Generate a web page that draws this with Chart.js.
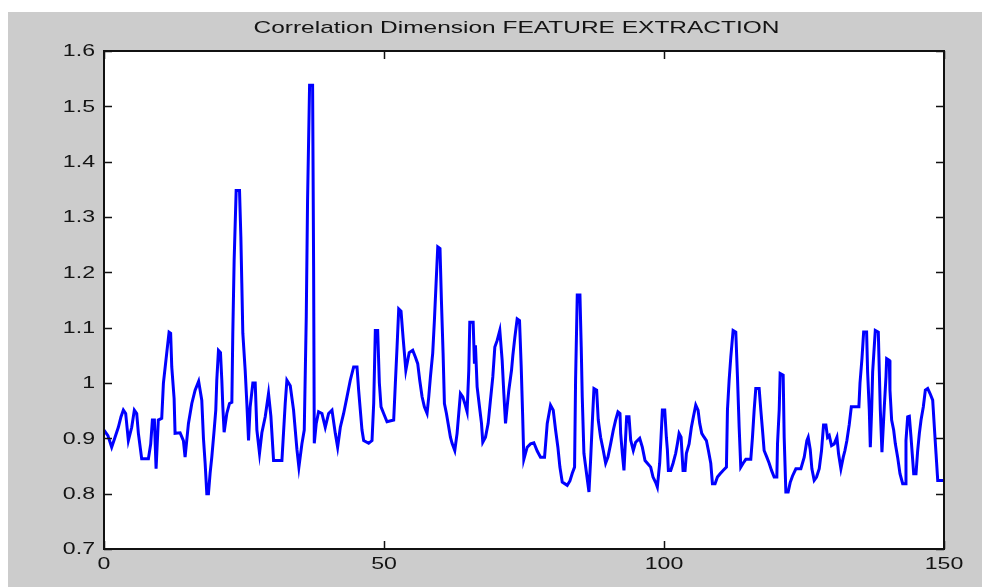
<!DOCTYPE html>
<html><head><meta charset="utf-8">
<script src="https://cdn.jsdelivr.net/npm/chart.js@4.4.0/dist/chart.umd.min.js"></script>
<style>
html,body{margin:0;padding:0;background:#fff;}
#wrap{position:relative;width:982px;height:587px;overflow:hidden;}
canvas{display:block;}
</style></head><body>
<div id="wrap"><canvas id="c" width="982" height="587"></canvas></div>
<script>
const titleText = 'Correlation Dimension FEATURE EXTRACTION';

const xValues = [
0,0.7,1.37,1.97,2.56,3.04,3.46,3.87,4.35,4.95,5.42,5.84,6.14,6.73,7.93,8.34,8.64,9.0,9.3,9.7,
10.31,10.61,11.2,11.62,11.9,12.1,12.52,12.69,13.59,14.18,14.48,15.08,15.68,16.27,16.9,17.46,17.76,18.06,18.36,18.65,
18.95,19.25,19.67,19.96,20.14,20.44,20.8,21.04,21.22,21.45,21.93,22.41,22.83,23.0,23.24,23.6,24.2,24.44,24.61,24.79,
25.21,25.51,25.81,26.1,26.58,27.0,27.3,27.77,28.19,28.79,29.38,29.8,30.28,31.77,32.36,32.66,33.26,33.85,34.45,34.8,
35.34,35.76,36.12,36.35,36.71,37.25,37.43,37.55,37.9,38.32,38.92,39.51,40.11,40.71,41.3,41.72,42.2,42.79,43.39,43.98,
44.58,45.18,45.47,45.77,46.07,46.37,47.26,47.86,48.16,48.45,48.87,49.17,49.47,49.94,50.54,51.73,52.03,52.33,52.63,53.04,
53.4,53.9,54.5,55.13,55.6,56.02,56.38,56.8,57.21,57.69,57.99,58.29,58.7,59.0,59.3,59.6,60.0,60.25,60.55,60.79,
61.15,61.45,61.86,62.16,62.64,63.05,63.35,63.65,64.07,64.43,64.84,65.14,65.32,65.92,66.15,66.33,66.63,67.05,67.41,67.64,
68.12,68.6,69.01,69.43,69.79,70.21,70.68,71.1,71.4,71.7,71.99,72.29,72.77,73.01,73.37,73.78,74.2,74.5,74.75,74.97,
75.57,76.17,76.76,77.36,77.95,78.67,79.15,79.74,80.22,80.64,81.05,81.41,81.83,82.72,83.2,83.62,84.03,84.21,84.51,84.99,
85.22,85.4,85.7,86.12,86.6,86.89,87.19,87.49,87.97,88.26,88.68,89.16,89.58,89.99,90.47,90.95,91.36,91.78,92.14,92.26,
92.56,92.85,93.33,93.75,94.05,94.52,94.94,95.66,96.13,96.61,97.03,97.62,98.04,98.52,98.81,99.23,99.47,99.71,100.13,100.42,
100.6,100.78,101.2,101.62,102.09,102.39,102.69,103.05,103.4,103.76,104.0,104.48,104.89,105.25,105.67,106.08,106.38,106.74,107.16,107.57,
107.93,108.35,108.65,109.12,109.54,110.02,110.55,111.15,111.33,111.63,111.93,112.34,112.82,113.12,113.42,113.71,114.13,114.61,115.5,115.8,
116.1,116.39,116.99,117.29,117.59,117.88,118.36,118.78,119.2,119.67,120.15,120.27,120.57,120.74,121.28,121.46,121.76,122.17,122.53,122.95,
123.55,124.44,125.04,125.51,125.75,126.11,126.41,126.82,127.24,127.72,128.13,128.49,128.91,129.21,129.51,129.92,130.4,130.88,131.17,131.59,
132.01,132.31,132.66,133.08,133.45,134.8,135.0,135.35,135.65,136.18,136.36,136.66,136.84,137.08,137.26,137.73,138.27,138.45,138.63,138.92,
139.34,139.64,139.76,140.23,140.35,140.65,141.01,141.31,141.72,142.14,142.62,143.04,143.21,143.51,143.81,144.11,144.59,145.0,145.3,145.6,
145.9,146.31,146.67,147.09,147.51,147.98,148.28,148.58,148.88,150
];

const yValues = [
0.915,0.905,0.884,0.902,0.92,0.939,0.951,0.945,0.896,0.92,0.951,0.945,0.909,0.863,0.863,0.89,0.933,0.933,0.845,0.933,
0.936,1.0,1.054,1.092,1.09,1.029,0.972,0.909,0.91,0.896,0.866,0.927,0.963,0.987,1.003,0.969,0.90,0.855,0.80,0.80,
0.837,0.866,0.915,0.951,1.005,1.059,1.055,1.005,0.957,0.911,0.945,0.963,0.965,1.09,1.222,1.348,1.348,1.264,1.18,1.09,
1.023,0.963,0.896,0.957,1.0,1.0,0.915,0.873,0.91,0.939,0.981,0.94,0.86,0.86,0.963,1.005,0.995,0.951,0.88,0.848,
0.89,0.915,1.12,1.33,1.538,1.538,1.21,0.891,0.927,0.948,0.945,0.92,0.945,0.951,0.909,0.884,0.92,0.945,0.975,1.005,
1.029,1.029,0.987,0.951,0.915,0.896,0.891,0.896,0.963,1.095,1.095,1.0,0.957,0.945,0.93,0.933,1.0,1.065,1.134,1.13,
1.083,1.023,1.055,1.059,1.047,1.035,1.005,0.975,0.957,0.945,0.975,1.011,1.054,1.113,1.18,1.246,1.243,1.15,1.054,0.963,
0.945,0.927,0.902,0.891,0.878,0.909,0.945,0.981,0.975,0.963,0.948,1.023,1.11,1.11,1.035,1.068,0.993,0.957,0.927,0.893,
0.902,0.927,0.969,1.011,1.065,1.077,1.095,1.041,0.981,0.927,0.957,0.987,1.023,1.05,1.083,1.116,1.113,1.03,0.945,0.862,
0.884,0.89,0.892,0.877,0.866,0.866,0.927,0.96,0.951,0.915,0.884,0.848,0.821,0.815,0.823,0.837,0.848,1.005,1.159,1.159,
1.065,0.975,0.873,0.84,0.803,0.86,0.927,0.99,0.987,0.933,0.902,0.878,0.855,0.866,0.89,0.915,0.933,0.948,0.945,0.909,
0.873,0.842,0.939,0.939,0.897,0.878,0.893,0.9,0.884,0.86,0.855,0.848,0.83,0.82,0.812,0.855,0.902,0.951,0.951,0.902,
0.88,0.842,0.842,0.855,0.873,0.89,0.909,0.902,0.842,0.842,0.873,0.89,0.92,0.939,0.96,0.951,0.927,0.909,0.902,0.896,
0.878,0.855,0.818,0.818,0.83,0.836,0.842,0.848,0.951,1.005,1.047,1.095,1.092,1.011,0.92,0.848,0.855,0.862,0.862,0.902,
0.951,0.99,0.99,0.951,0.915,0.878,0.866,0.855,0.842,0.83,0.83,0.89,0.951,1.017,1.014,0.902,0.803,0.803,0.82,0.832,
0.845,0.845,0.866,0.896,0.902,0.88,0.845,0.824,0.83,0.845,0.878,0.924,0.924,0.902,0.905,0.887,0.89,0.902,0.872,0.845,
0.866,0.878,0.896,0.925,0.957,0.957,1.0,1.044,1.092,1.092,1.02,0.951,0.884,0.951,1.02,1.095,1.092,1.02,0.951,0.875,
0.957,1.011,1.044,1.041,0.987,0.933,0.915,0.89,0.866,0.836,0.818,0.818,0.896,0.939,0.94,0.902,0.836,0.836,0.878,0.909,
0.933,0.957,0.987,0.99,0.981,0.969,0.92,0.872,0.824,0.824
];

const xTickValues = [0, 50, 100, 150];
const xTickLabels = ['0', '50', '100', '150'];
const yTickValues = [0.7, 0.8, 0.9, 1.0, 1.1, 1.2, 1.3, 1.4, 1.5, 1.6];
const yTickLabels = ['0.7', '0.8', '0.9', '1', '1.1', '1.2', '1.3', '1.4', '1.5', '1.6'];

const points = xValues.map((x, i) => ({x: x, y: yValues[i]}));

const FONT = '17px "Liberation Sans", Arial, Helvetica, sans-serif';
const TEXT_COLOR = '#141414';

function stretchedText(ctx, text, x, y, align, sx) {
  ctx.save();
  ctx.translate(x, y);
  ctx.scale(sx, 1);
  ctx.textAlign = align;
  ctx.textBaseline = 'middle';
  ctx.fillText(text, 0, 0);
  ctx.restore();
}

const matlabFrame = {
  id: 'matlabFrame',
  beforeDraw(chart) {
    const ctx = chart.ctx;
    const a = chart.chartArea;
    ctx.save();
    ctx.fillStyle = '#ffffff';
    ctx.fillRect(0, 0, chart.width, chart.height);
    ctx.fillStyle = '#cccccc';
    ctx.fillRect(8, 12, chart.width - 8, chart.height - 12);
    ctx.fillStyle = '#ffffff';
    ctx.fillRect(a.left, a.top, a.right - a.left, a.bottom - a.top);
    ctx.restore();
  },
  afterDatasetsDraw(chart) {
    const ctx = chart.ctx;
    const a = chart.chartArea;
    const xs = chart.scales.x, ys = chart.scales.y;
    ctx.save();
    ctx.strokeStyle = '#111111';
    ctx.lineWidth = 1.5;
    const tl = 8;
    ctx.beginPath();
    yTickValues.forEach(v => {
      const py = Math.round(ys.getPixelForValue(v)) + 0.5;
      ctx.moveTo(a.left, py); ctx.lineTo(a.left + tl, py);
      ctx.moveTo(a.right, py); ctx.lineTo(a.right - tl, py);
    });
    xTickValues.forEach(v => {
      const px = Math.round(xs.getPixelForValue(v)) + 0.5;
      ctx.moveTo(px, a.bottom); ctx.lineTo(px, a.bottom - tl);
      ctx.moveTo(px, a.top); ctx.lineTo(px, a.top + tl);
    });
    ctx.stroke();
    ctx.lineWidth = 2;
    ctx.strokeStyle = '#111111';
    ctx.strokeRect(a.left, a.top, a.right - a.left, a.bottom - a.top);
    ctx.fillStyle = TEXT_COLOR;
    ctx.font = FONT;
    yTickValues.forEach((v, i) => {
      stretchedText(ctx, yTickLabels[i], a.left - 9, ys.getPixelForValue(v) + 0.5, 'right', 1.36);
    });
    xTickValues.forEach((v, i) => {
      stretchedText(ctx, xTickLabels[i], xs.getPixelForValue(v), a.bottom + 15, 'center', 1.36);
    });
    stretchedText(ctx, titleText, 516.5, 28.5, 'center', 1.44);
    ctx.restore();
  }
};

new Chart(document.getElementById('c'), {
  type: 'line',
  data: {
    datasets: [{
      label: 'Correlation Dimension',
      data: points,
      borderColor: '#0000ff',
      borderWidth: 3,
      pointRadius: 0,
      pointHoverRadius: 0,
      tension: 0,
      fill: false,
      borderJoinStyle: 'miter',
      borderCapStyle: 'butt'
    }]
  },
  options: {
    responsive: false,
    devicePixelRatio: 1,
    animation: false,
    events: [],
    layout: { autoPadding: false, padding: { left: 104, top: 51, right: 38, bottom: 38 } },
    plugins: { legend: { display: false }, title: { display: false }, tooltip: { enabled: false } },
    scales: {
      x: {
        type: 'linear', min: 0, max: 150,
        ticks: { display: false, stepSize: 50 },
        grid: { display: false, drawTicks: false },
        border: { display: false }
      },
      y: {
        type: 'linear', min: 0.7, max: 1.6,
        ticks: { display: false, stepSize: 0.1 },
        grid: { display: false, drawTicks: false },
        border: { display: false }
      }
    }
  },
  plugins: [matlabFrame]
});
</script>
</body></html>
